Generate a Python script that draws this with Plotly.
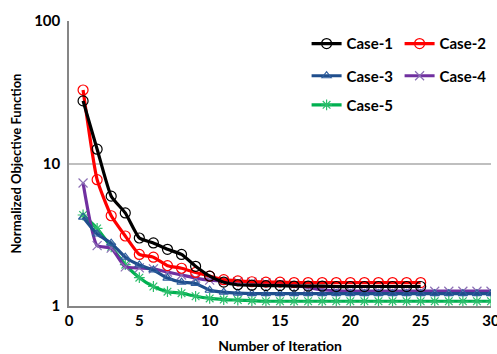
import plotly.graph_objects as go

# Iteration numbers
iters_a = list(range(1, 26))
iters_b = list(range(1, 31))

# Normalized objective function per iteration
case1 = [27.5, 12.6, 5.9, 4.5, 3.0, 2.77, 2.5, 2.3, 1.9, 1.62, 1.47, 1.41, 1.40,
         1.39, 1.39, 1.38, 1.38, 1.38, 1.37, 1.37, 1.37, 1.37, 1.37, 1.37, 1.37]
case2 = [32.8, 7.7, 4.3, 3.1, 2.3, 2.2, 1.92, 1.84, 1.72, 1.62, 1.53, 1.50, 1.48,
         1.47, 1.47, 1.46, 1.46, 1.46, 1.46, 1.46, 1.46, 1.46, 1.46, 1.46, 1.46]
case3 = [4.2, 3.2, 2.76, 2.2, 1.94, 1.79, 1.57, 1.47, 1.44, 1.29, 1.25, 1.23, 1.22,
         1.22, 1.22, 1.22, 1.22, 1.22, 1.22, 1.22, 1.22, 1.22, 1.22, 1.22, 1.22,
         1.22, 1.22, 1.22, 1.22, 1.22]
case4 = [7.3, 2.65, 2.55, 1.88, 1.85, 1.82, 1.73, 1.65, 1.57, 1.52, 1.50, 1.48, 1.47,
         1.46, 1.44, 1.40, 1.35, 1.30, 1.28, 1.27, 1.27, 1.27, 1.27, 1.27, 1.27,
         1.27, 1.27, 1.27, 1.27, 1.27]
case5 = [4.35, 3.5, 2.6, 1.95, 1.58, 1.37, 1.26, 1.23, 1.17, 1.13, 1.11, 1.10, 1.09,
         1.08, 1.08, 1.08, 1.08, 1.08, 1.08, 1.08, 1.08, 1.08, 1.08, 1.08, 1.08,
         1.08, 1.08, 1.08, 1.08, 1.08]

x_ticks = [0, 5, 10, 15, 20, 25, 30]
y_ticks = [1, 10, 100]

FONT = "Lato"

series = [
    ("Case-1", iters_a, case1, "#000000", "#000000", "circle-open", 10, "legend"),
    ("Case-2", iters_a, case2, "#FF0000", "#FF0000", "circle-open", 10, "legend"),
    ("Case-3", iters_b, case3, "#1F4E8C", "#2F5E9E", "triangle-up-open", 8, "legend2"),
    ("Case-4", iters_b, case4, "#7030A0", "#8B6FB5", "x-thin-open", 9, "legend2"),
    ("Case-5", iters_b, case5, "#00B050", "#2DBE6C", "asterisk-open", 9, "legend3"),
]

fig = go.Figure()
# draw later cases first so Case-1 / Case-2 sit on top
for name, xs, ys, lc, mc, sym, ms, lg in reversed(series):
    fig.add_trace(go.Scatter(
        x=xs, y=ys, name=name, mode="lines+markers", legend=lg,
        line=dict(color=lc, width=3.2, shape="spline", smoothing=0.5),
        marker=dict(symbol=sym, size=ms, color=mc, line=dict(width=1.2, color=mc)),
    ))

legend_common = dict(
    orientation="h", xanchor="left", yanchor="middle", entrywidth=48,
    font=dict(family=FONT, size=15, color="#000000", weight="bold"),
    bgcolor="rgba(0,0,0,0)", traceorder="reversed",
)

fig.update_layout(
    width=497, height=354,
    margin=dict(l=69, r=6, t=21, b=48, autoexpand=False),
    plot_bgcolor="white", paper_bgcolor="white",
    font=dict(family=FONT, color="#000000"),
    legend=dict(x=0.563, y=0.92, **legend_common),
    legend2=dict(x=0.563, y=0.807, **legend_common),
    legend3=dict(x=0.563, y=0.705, **legend_common),
    xaxis=dict(
        range=[0, 30], tickvals=x_ticks, ticks="", showgrid=False, zeroline=False,
        showline=True, linecolor="#868686", linewidth=1.5, ticklabeloverflow="allow",
        automargin=False,
        tickfont=dict(family=FONT, size=15, weight="bold"),
        title=dict(text="Number of Iteration", standoff=14,
                   font=dict(family=FONT, size=14, weight="bold")),
    ),
    yaxis=dict(
        type="log", range=[0, 2], tickvals=y_ticks, ticktext=[str(v) for v in y_ticks],
        ticks="", showgrid=True, gridcolor="#BFBFBF", gridwidth=1.5, zeroline=False,
        showline=True, linecolor="#868686", linewidth=1.5, ticklabelstandoff=4,
        automargin=False,
        tickfont=dict(family=FONT, size=15, weight="bold"),
        title=dict(text="Normalized Objective Function", standoff=10,
                   font=dict(family=FONT, size=13, weight="bold")),
    ),
)

fig.write_html("out.html")
